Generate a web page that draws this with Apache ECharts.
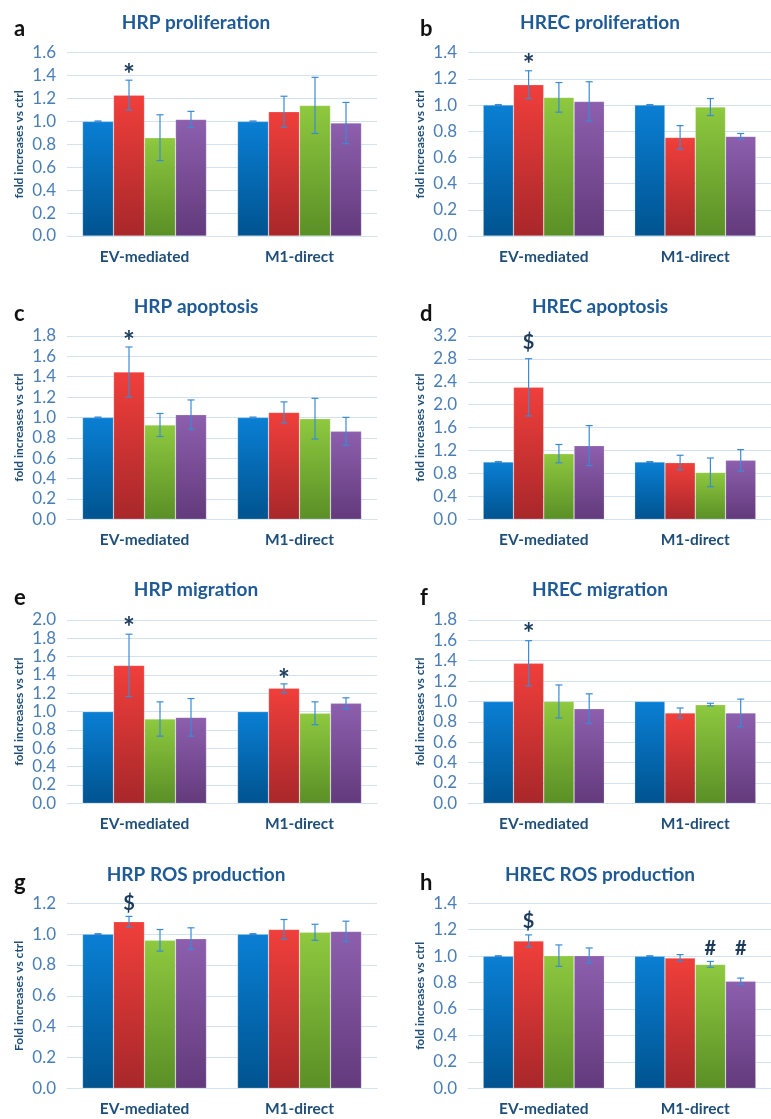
<!DOCTYPE html>
<html><head><meta charset="utf-8">
<script src="https://cdn.jsdelivr.net/npm/echarts@6/dist/echarts.min.js"></script>
<style>html,body{margin:0;padding:0;background:#fff}#c{width:771px;height:1119px}</style>
</head><body><div id="c"></div>
<script>
const categories = ['EV-mediated', 'M1-direct'];
const seriesNames = ['ctrl', 'M1', 'M1+inh1', 'M1+inh2'];

// each array: [EV-mediated, M1-direct]; rows: blue, red, green, purple
const aMeans = [[1.0, 1.0], [1.23, 1.085], [0.858, 1.14], [1.018, 0.986]];
const aErrs  = [[0.004, 0.004], [0.13, 0.135], [0.2, 0.245], [0.07, 0.18]];
const aMarks = [[0, 1, 1.46, '*']];

const bMeans = [[1.0, 1.0], [1.156, 0.753], [1.059, 0.985], [1.028, 0.761]];
const bErrs  = [[0.004, 0.004], [0.106, 0.09], [0.113, 0.065], [0.15, 0.022]];
const bMarks = [[0, 1, 1.35, '*']];

const cMeans = [[1.0, 1.0], [1.447, 1.05], [0.926, 0.988], [1.028, 0.864]];
const cErrs  = [[0.004, 0.004], [0.245, 0.103], [0.113, 0.2], [0.144, 0.137]];
const cMarks = [[0, 1, 1.8, '*']];

const dMeans = [[1.0, 1.0], [2.304, 0.99], [1.146, 0.82], [1.286, 1.03]];
const dErrs  = [[0.008, 0.008], [0.5, 0.128], [0.16, 0.25], [0.35, 0.187]];
const dMarks = [[0, 1, 3.08, '$']];

const eMeans = [[1.0, 1.0], [1.505, 1.255], [0.92, 0.982], [0.938, 1.091]];
const eErrs  = [[0, 0], [0.34, 0.048], [0.187, 0.125], [0.205, 0.06]];
const eMarks = [[0, 1, 1.98, '*'], [1, 1, 1.407, '*']];

const fMeans = [[1.0, 1.0], [1.375, 0.887], [1.0, 0.969], [0.929, 0.887]];
const fErrs  = [[0, 0], [0.222, 0.049], [0.162, 0.013], [0.146, 0.136]];
const fMarks = [[0, 1, 1.718, '*']];

const gMeans = [[1.0, 1.0], [1.081, 1.031], [0.96, 1.012], [0.971, 1.018]];
const gErrs  = [[0.003, 0.003], [0.034, 0.064], [0.07, 0.052], [0.07, 0.066]];
const gMarks = [[0, 1, 1.2, '$']];

const hMeans = [[1.0, 1.0], [1.115, 0.986], [1.004, 0.938], [1.004, 0.81]];
const hErrs  = [[0.003, 0.003], [0.046, 0.026], [0.081, 0.022], [0.058, 0.024]];
const hMarks = [[0, 1, 1.261, '$'], [1, 2, 1.06, '#'], [1, 3, 1.06, '#']];

const yMaxes = [1.6, 1.4, 1.8, 3.2, 2.0, 1.8, 1.2, 1.4];
const yIntervals = [0.2, 0.2, 0.2, 0.4, 0.2, 0.2, 0.2, 0.2];
const panelTitles = ['HRP proliferation', 'HREC proliferation', 'HRP apoptosis', 'HREC apoptosis',
  'HRP migration', 'HREC migration', 'HRP ROS production', 'HREC ROS production'];
const panelLetters = ['a', 'b', 'c', 'd', 'e', 'f', 'g', 'h'];
const yNames = ['fold increases vs ctrl', 'fold increases vs ctrl', 'fold increases vs ctrl', 'fold increases vs ctrl',
  'fold increases vs ctrl', 'fold increases vs ctrl', 'Fold increases vs ctrl', 'fold increases vs ctrl'];

const allMeans = [aMeans, bMeans, cMeans, dMeans, eMeans, fMeans, gMeans, hMeans];
const allErrs = [aErrs, bErrs, cErrs, dErrs, eErrs, fErrs, gErrs, hErrs];
const allMarks = [aMarks, bMarks, cMarks, dMarks, eMarks, fMarks, gMarks, hMarks];

// layout
const colLeft = [67, 468];
const gridW = 310;
const rowTop = [52.7, 336, 620, 903.3];
const rowBottom = [236, 519.3, 803.3, 1088.3];
const titleY = [8, 292, 575, 860];
const letterY = [18, 303, 587, 872];
const letterX = [14, 420];

const barColors = [
  ['#0a7fd4', '#00538f'],
  ['#f03f3b', '#a8272a'],
  ['#8ec93f', '#5a8f26'],
  ['#8d5fae', '#633a7c']
];

const FONT = 'Lato, "Open Sans", sans-serif';
const grids = [], xAxes = [], yAxes = [], titles = [], series = [], graphics = [];

for (let p = 0; p < 8; p++) {
  const col = p % 2, row = Math.floor(p / 2);
  grids.push({ left: colLeft[col], width: gridW, top: rowTop[row], height: rowBottom[row] - rowTop[row] });
  xAxes.push({
    type: 'category', gridIndex: p, data: categories,
    axisLine: { lineStyle: { color: '#d3e2f1', width: 1 } },
    axisTick: { show: false },
    axisLabel: { color: '#1f4e79', fontWeight: 'bold', fontSize: 15.5, margin: 13, fontFamily: FONT }
  });
  yAxes.push({
    type: 'value', gridIndex: p, min: 0, max: yMaxes[p], interval: yIntervals[p],
    name: yNames[p], nameLocation: 'middle', nameGap: 42, nameRotate: 90,
    nameTextStyle: { color: '#1f4e79', fontWeight: 'bold', fontSize: 12, fontFamily: FONT },
    axisLine: { show: false }, axisTick: { show: false },
    axisLabel: { color: '#4a7eb6', fontSize: 17, margin: 11, fontFamily: FONT,
      formatter: v => v.toFixed(1) },
    splitLine: { lineStyle: { color: '#d3e2f1', width: 1 } }
  });
  titles.push({
    text: panelTitles[p], left: colLeft[col] + (col === 0 ? 124 : 127), top: titleY[row], textAlign: 'center',
    textStyle: { color: '#1f5a96', fontSize: 19, fontWeight: 'bold', fontFamily: FONT }
  });
  graphics.push({
    type: 'text', left: letterX[col], top: letterY[row],
    style: { text: panelLetters[p], fill: '#111', font: 'bold 22px ' + FONT }
  });
  const means = allMeans[p], errs = allErrs[p];
  for (let s = 0; s < 4; s++) {
    series.push({
      type: 'bar', name: seriesNames[s], xAxisIndex: p, yAxisIndex: p,
      data: means[s], barGap: '0%', barCategoryGap: '20%',
      itemStyle: {
        color: new echarts.graphic.LinearGradient(0, 0, 0, 1, [
          { offset: 0, color: barColors[s][0] }, { offset: 1, color: barColors[s][1] }]),
        borderColor: 'rgba(255,255,255,0.35)', borderWidth: 0.6
      },
      silent: true
    });
  }
  // error bars
  const errData = [];
  for (let s = 0; s < 4; s++) for (let c = 0; c < 2; c++) {
    if (errs[s][c] > 0) errData.push([c, s, means[s][c] - errs[s][c], means[s][c] + errs[s][c]]);
  }
  series.push({
    type: 'custom', xAxisIndex: p, yAxisIndex: p, data: errData, silent: true, z: 5,
    renderItem: function (params, api) {
      const c = api.value(0), s = api.value(1);
      const band = api.size([1, 0])[0];
      const bw = band * 0.8 / 4;
      const off = (s - 1.5) * bw;
      const lo = api.coord([c, api.value(2)]);
      const hi = api.coord([c, api.value(3)]);
      const x = lo[0] + off;
      const cap = 3.5;
      const st = { stroke: '#3b8ad6', lineWidth: 1.2 };
      return { type: 'group', children: [
        { type: 'line', shape: { x1: x, y1: lo[1], x2: x, y2: hi[1] }, style: st },
        { type: 'line', shape: { x1: x - cap, y1: lo[1], x2: x + cap, y2: lo[1] }, style: st },
        { type: 'line', shape: { x1: x - cap, y1: hi[1], x2: x + cap, y2: hi[1] }, style: st }
      ] };
    }
  });
  // significance marks
  series.push({
    type: 'custom', xAxisIndex: p, yAxisIndex: p, data: allMarks[p], silent: true, z: 6,
    renderItem: function (params, api) {
      const c = api.value(0), s = api.value(1);
      const band = api.size([1, 0])[0];
      const bw = band * 0.8 / 4;
      const pt = api.coord([c, api.value(2)]);
      const mk = allMarks[p][params.dataIndex][3];
      const fs = mk === '*' ? 28 : 20;
      return { type: 'text', x: pt[0] + (s - 1.5) * bw, y: pt[1] + (mk === '*' ? 6 : 0),
        style: { text: mk, fill: '#1b3a5c', font: 'bold ' + fs + 'px ' + FONT,
          textAlign: 'center', textVerticalAlign: 'middle' } };
    }
  });
}

const chart = echarts.init(document.getElementById('c'), null, { renderer: 'canvas' });
chart.setOption({
  backgroundColor: '#fff', animation: false,
  title: titles, grid: grids, xAxis: xAxes, yAxis: yAxes, series: series, graphic: graphics
});
</script></body></html>
